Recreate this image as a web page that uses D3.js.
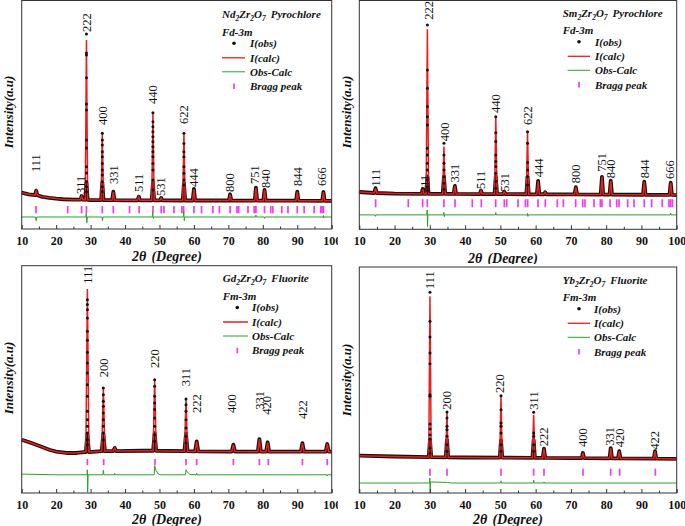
<!DOCTYPE html>
<html><head><meta charset="utf-8">
<script src="https://cdn.jsdelivr.net/npm/d3@7"></script>
<style>body{margin:0;background:#fff}svg{display:block}</style>
</head><body>
<svg id="chart" width="685" height="526"></svg>
<script>
// ---------------- DATA ----------------
const xTickValues = [10,20,30,40,50,60,70,80,90,100];
const xMinorValues = [15,25,35,45,55,65,75,85,95];
const legendLabels = ["I(obs)","I(calc)","Obs-Calc","Bragg peak"];

// Panel 1: Nd2Zr2O7 pyrochlore
const formula1 = ["Nd","2","Zr","2","O","7"];
const phase1 = "Pyrochlore", group1 = "Fd-3m";
const background1 = [[10,4.6],[12,3.6],[14,2.9],[16,2.0],[18,1.4],[20,0.9],[22,0.5],[25,0.2],[30,0],[40,-0.2],[60,-0.3],[80,-0.4],[100,-0.5]];
const peaks1 = [[14.2,5.8,3.0],[27.4,2.5,0.2],[28.8,100,0.1],[33.4,41.9,0],[36.6,5.2,-0.1],[44.0,2.1,-0.2],[48.1,54.6,-0.2],[50.5,1.3,-0.2],[57.1,41.7,-0.3],[60.0,6.9,-0.3],[70.5,3.6,-0.3],[78.0,7.7,-0.4],[80.5,6.3,-0.4],[90.0,5.2,-0.4],[97.6,5.0,-0.5]];
const obsCols1 = [[28.8,[103.8,91.9,90.6,76.4,60,56.3,37.5,32.5,20.8,16.9,11.4,8.3,5.2]],
  [33.4,[41.7,37.5,34.4,30.2,27.1,22.9,18.8,15.6,11.4,8.3,5.2]],
  [48.1,[54.6,48.9,45.8,42.7,39.6,36.5,33.3,30.2,27.1,22.9,18.8,12.5,6.3]],
  [57.1,[41.7,35.4,30.2,27.1,20.8,16.7,12.5,9.4]]];
const diff1 = [[10,-10.6],[14.0,-10.6],[14.2,-12.9],[14.4,-10.6],[28.6,-10.6],[28.75,-8.3],[28.9,-14.2],[29.05,-10.6],[33.3,-10.6],[33.45,-12.9],[33.6,-10.6],[47.9,-10.6],[48.05,-7.9],[48.2,-11.5],[48.35,-10.6],[56.9,-10.6],[57.05,-7.3],[57.2,-12.9],[57.35,-10.6],[77.9,-10.6],[78.0,-9.4],[78.1,-10.6],[80.4,-10.6],[80.5,-11.5],[80.6,-10.6],[97.5,-10.6],[97.6,-9.7],[97.7,-11.2],[97.8,-10.6],[100,-10.6]];
const bragg1 = [14.16,23.35,27.4,28.8,33.4,36.6,41.3,44.1,48.1,50.5,51.3,54.2,56.5,57.0,60.0,62.2,65.5,67.4,70.5,72.5,73.0,75.7,77.5,78.0,80.5,82.3,82.9,85.5,87.3,90.0,92.0,94.9,96.8,97.2,97.6];
const hkl1 = ["111","311","222","400","331","511","440","531","622","444","800","751","840","844","666"];
const hklPos1 = [14.15,27.2,28.87,33.4,36.6,44.0,47.9,50.4,57.1,60.0,70.5,77.7,80.7,90.0,97.2];
const hklAt1 = [17.5,3.8,105,46.9,10,5,60,2.5,47.5,8.1,5,10,7.5,8.8,8.8];

// Panel 2: Sm2Zr2O7 pyrochlore
const formula2 = ["Sm","2","Zr","2","O","7"];
const phase2 = "Pyrochlore", group2 = "Fd-3m";
const background2 = [[10,1.2],[15,0.6],[20,0.2],[30,0],[60,-0.3],[100,-0.7]];
const peaks2 = [[14.6,3.6,0.6],[28.0,3.1,0],[29.3,102.9,0],[34.0,29.6,0],[37.1,5.0,0],[44.5,2.1,-0.1],[48.7,48.3,-0.1],[51.1,1.4,-0.1],[57.7,38.9,-0.2],[60.7,8.1,-0.2],[62.7,1.0,-0.2],[71.4,4.2,-0.3],[78.8,10.8,-0.4],[81.3,8.3,-0.4],[90.8,7.7,-0.5],[98.3,7.1,-0.6]];
const obsCols2 = [[29.3,[105.6,77.5,66.0,54.6,48.3,43.1,28.6,24.4,19.2,15.0,8.8,4.6,2.1]],
  [34.0,[31.7,24.4,19.2,15,10.8,6.7,2.9]],
  [48.7,[48.3,38.3,32.7,24.4,20.2,17.1,12.9,7.7,3.6]],
  [57.7,[38.9,31.7,19.6,15,10.8,5.6]]];
const diff2 = [[10,-13.1],[14.5,-13.1],[14.6,-14.0],[14.7,-13.1],[29.15,-13.1],[29.25,-10.0],[29.35,-20.4],[29.45,-13.1],[33.9,-13.1],[34.0,-11.5],[34.1,-14.2],[34.2,-13.1],[48.6,-13.1],[48.7,-11.6],[48.8,-13.1],[57.6,-13.1],[57.7,-12.2],[57.8,-14.0],[57.9,-13.1],[98.2,-13.1],[98.3,-12.0],[98.4,-13.1],[100,-13.1]];
const bragg2 = [14.63,23.9,27.96,29.29,34.0,37.13,42.05,44.6,48.67,51.12,51.8,55.0,57.1,57.74,60.67,62.75,66.15,67.86,71.35,73.34,74.0,76.55,78.35,78.82,81.1,82.98,83.64,86.1,87.9,90.8,92.9,95.9,97.8,98.3,98.8];
const hkl2 = ["111","311","222","400","331","511","440","531","622","444","800","751","840","844","666"];
const hklPos2 = [14.65,28.6,29.6,34.1,37.1,44.5,48.7,51.1,57.8,60.8,71.2,78.8,81.3,90.8,98.1];
const hklAt2 = [4.6,0.6,108.8,33,7.1,3.1,50.6,1.4,43.1,10.4,6.7,13.9,9.8,9.8,9.4];

// Panel 3: Gd2Zr2O7 fluorite
const formula3 = ["Gd","2","Zr","2","O","7"];
const phase3 = "Fluorite", group3 = "Fm-3m";
const background3 = [[10,7.7],[12,6.3],[15,3.9],[18,1.4],[20,0.2],[23,-0.6],[26,-0.6],[28,0],[35,0.6],[45,0.8],[60,0.4],[80,0.2],[100,0.2]];
const peaks3 = [[29.07,101.9,0],[33.7,40,0.5],[37.0,2.5,0.6],[48.6,45.2,0.8],[57.7,33.1,0.5],[60.8,6.7,0.4],[71.45,4.6,0.3],[79.0,8.1,0.2],[81.4,6.1,0.2],[91.5,5.6,0.2],[98.7,5.0,0.2]];
const obsCols3 = [[29.07,[95.2,92.1,88.9,83.8,75.4,69.8,62.3,55.6,49.4,42.1,34.8,25.4,20.2,16.1,11.9,7.7,4.6]],
  [33.7,[40,35.8,31.7,28.6,24.4,20.2,16.1,11.9,7.7]],
  [48.6,[45.2,41.1,34.8,30.6,26.5,21.3,16.1,10.8,6.7]],
  [57.7,[33.1,29.6,25.4,20.2,15,9.8,5.6]]];
const diff3 = [[10,-13.8],[20,-14.2],[29.0,-14.2],[29.05,-11.1],[29.15,-25.2],[29.3,-14.2],[33.6,-14.2],[33.7,-11.4],[33.85,-14.2],[36.9,-14.2],[37.0,-13.3],[37.1,-14.2],[48.5,-14.2],[48.6,-8.6],[49.0,-11.5],[49.6,-13.6],[50.2,-14.2],[57.6,-14.2],[57.7,-11.1],[58.1,-12.5],[58.8,-14.0],[60.7,-14.2],[60.8,-13.3],[60.9,-14.2],[98.6,-14.2],[98.7,-15.0],[98.8,-14.2],[100,-14.2]];
const bragg3 = [29.07,33.8,48.7,57.7,60.8,71.45,79.0,81.6,91.5,98.7];
const hkl3 = ["111","200","220","311","222","400","331","420","422"];
const hklPos3 = [29.05,33.9,48.6,57.7,60.8,71.0,79.0,81.1,91.5];
const hklAt3 = [105.2,46.7,52.5,41.1,24.4,24.4,26.4,23.3,20.6];

// Panel 4: Yb2Zr2O7 fluorite
const formula4 = ["Yb","2","Zr","2","O","7"];
const phase4 = "Fluorite", group4 = "Fm-3m";
const background4 = [[10,0.8],[20,0.3],[40,-0.3],[70,-0.7],[100,-1.2]];
const peaks4 = [[30.04,100.4,-0.1],[34.86,28.1,-0.2],[50.18,38.3,-0.4],[59.44,26.4,-0.5],[62.37,5.2,-0.6],[73.4,2.5,-0.7],[81.3,5.6,-0.8],[83.7,3.6,-0.9],[93.85,3.6,-1.0]];
const obsCols4 = [[30.04,[102.9,84.8,75,65,58.3,38.9,37.9,20.6,17.5,13.9,11.3,5.6,2.5]],
  [34.86,[28.1,24.4,19.2,17.1,12.9,7.7,3.6]],
  [50.18,[38.3,29.6,21.3,19.2,15,7.7,3.6]],
  [59.44,[27.9,15,12.9,7.7,3.6]]];
const diff4 = [[10,-16.25],[29.9,-16.25],[30.0,-13.1],[30.1,-22.5],[30.2,-15.6],[35,-15.9],[36,-16.25],[50.1,-16.25],[50.2,-14.9],[50.3,-16.25],[59.35,-16.25],[59.45,-14.4],[59.55,-16.25],[62.3,-16.25],[62.4,-15.6],[62.5,-16.25],[100,-16.25]];
const bragg4 = [30.04,34.86,50.18,59.44,62.37,73.43,81.28,83.83,93.95];
const hkl4 = ["111","200","220","311","222","400","331","420","422"];
const hklPos4 = [29.85,34.8,49.9,59.35,62.4,73.4,81.1,83.7,93.8];
const hklAt4 = [105,29.6,40,29.6,6.7,6.3,7.1,6.1,4.6];

// ---------------- LAYOUT ----------------
const FONT = "'Liberation Serif','Times New Roman',serif";
const RED = "#ee1c1c", GREEN = "#2ca02c", MAGENTA = "#f03cf0", FRAME = "#333";

const panels = [
  {cell:[0,0,338,263.5], xr:[21.7,331.7], yr:[229,0.5], yDom:[-18.1,124.7], w:0.35,
   bg:background1, peaks:peaks1, obs:obsCols1, diff:diff1, bragg:bragg1, braggR:[-3.75,-8.3],
   hkl:hkl1, hklPos:hklPos1, hklAt:hklAt1, formula:formula1, phase:phase1, group:group1,
   leg:{lx:222, y0:0.5, l1:222, l2:245, dot:234, tx:250}, yt:[8,112], xt:[167,261]},
  {cell:[338,0,347,264], xr:[359.3,676.7], yr:[229.3,0.5], yDom:[-22.1,120.9], w:0.35,
   bg:background2, peaks:peaks2, obs:obsCols2, diff:diff2, bragg:bragg2, braggR:[-3.3,-8.3],
   hkl:hkl2, hklPos:hklPos2, hklAt:hklAt2, formula:formula2, phase:phase2, group:group2,
   leg:{lx:562.7, y0:-1, l1:567.7, l2:590, dot:579, tx:595}, yt:[346,112], xt:[503,263]},
  {cell:[0,263.5,338,262.5], xr:[21.7,331.7], yr:[493,265.7], yDom:[-25.6,116.4], w:0.45,
   bg:background3, peaks:peaks3, obs:obsCols3, diff:diff3, bragg:bragg3, braggR:[-4.4,-8.3],
   hkl:hkl3, hklPos:hklPos3, hklAt:hklAt3, formula:formula3, phase:phase3, group:group3,
   leg:{lx:222.7, y0:264.7, l1:223, l2:248, dot:237.3, tx:252}, yt:[8,378], xt:[167,524]},
  {cell:[338,264,347,262], xr:[359.3,676.7], yr:[493,267], yDom:[-22.5,118.75], w:0.35,
   bg:background4, peaks:peaks4, obs:obsCols4, diff:diff4, bragg:bragg4, braggR:[-7.3,-11.7],
   hkl:hkl4, hklPos:hklPos4, hklAt:hklAt4, formula:formula4, phase:phase4, group:group4,
   leg:{lx:562.7, y0:266, l1:567.7, l2:590, dot:579, tx:594}, yt:[346,380], xt:[508,524]}
];

const svg = d3.select("#chart");
const defs = svg.append("defs");

function buildProfile(bg, peaks, w, cap){
  const pts = bg.filter(([x]) => !peaks.some(p => Math.abs(x - p[0]) <= w + 0.05)).map(d => [d[0], d[1]]);
  peaks.forEach(([c, top, base]) => {
    const t = cap == null ? top : Math.min(top, base + cap);
    pts.push([c - w, base], [c, t], [c + w, base]);
  });
  return pts.sort((a, b) => a[0] - b[0]);
}

panels.forEach((p, i) => {
  defs.append("clipPath").attr("id", "clip" + i).append("rect")
    .attr("x", p.cell[0]).attr("y", p.cell[1]).attr("width", p.cell[2]).attr("height", p.cell[3]);
  const g = svg.append("g").attr("clip-path", `url(#clip${i})`);
  const x = d3.scaleLinear().domain([10, 100]).range(p.xr);
  const y = d3.scaleLinear().domain(p.yDom).range(p.yr);
  const line = d3.line().x(d => x(d[0])).y(d => y(d[1]));

  // Bragg ticks
  g.append("g").selectAll("line").data(p.bragg).join("line")
    .attr("x1", d => x(d)).attr("x2", d => x(d))
    .attr("y1", y(p.braggR[0])).attr("y2", y(p.braggR[1]))
    .attr("stroke", MAGENTA).attr("stroke-width", 1.7);

  // Difference curve
  g.append("path").datum(p.diff).attr("d", line)
    .attr("fill", "none").attr("stroke", GREEN).attr("stroke-width", 1);

  // Observed (dense points rendered as thick black band)
  g.append("path").datum(buildProfile(p.bg, p.peaks, p.w, 11)).attr("d", line)
    .attr("fill", "none").attr("stroke", "#111").attr("stroke-width", 3.8)
    .attr("stroke-linejoin", "round");
  // Calculated
  g.append("path").datum(buildProfile(p.bg, p.peaks, p.w, null)).attr("d", line)
    .attr("fill", "none").attr("stroke", RED).attr("stroke-width", 1.5)
    .attr("stroke-linejoin", "miter");
  // Observed dots on peaks
  const dots = [];
  p.obs.forEach(([pos, vals]) => vals.forEach(v => dots.push([pos, v])));
  g.append("g").selectAll("circle").data(dots).join("circle")
    .attr("cx", d => x(d[0])).attr("cy", d => y(d[1])).attr("r", 1.5).attr("fill", "#111");

  // hkl labels
  g.append("g").selectAll("text").data(p.hkl).join("text")
    .attr("transform", (d, k) => `translate(${x(p.hklPos[k])},${y(p.hklAt[k])}) rotate(-90)`)
    .attr("dy", "0.35em").attr("text-anchor", "start")
    .attr("font-family", FONT).attr("font-size", 12.5).attr("fill", "#111")
    .text(d => d);

  // Frame
  g.append("rect").attr("x", p.xr[0]).attr("y", p.yr[1])
    .attr("width", p.xr[1] - p.xr[0]).attr("height", p.yr[0] - p.yr[1])
    .attr("fill", "none").attr("stroke", FRAME).attr("stroke-width", 1);

  // X axis
  const ax = g.append("g").attr("transform", `translate(0,${p.yr[0]})`)
    .call(d3.axisBottom(x).tickValues(xTickValues).tickFormat(d3.format("d"))
      .tickSizeInner(-4).tickSizeOuter(0).tickPadding(7));
  ax.select(".domain").remove();
  ax.selectAll("line").attr("stroke", FRAME);
  ax.selectAll("text").attr("font-family", FONT).attr("font-size", 12)
    .attr("font-weight", "bold").attr("fill", "#111");
  const axm = g.append("g").attr("transform", `translate(0,${p.yr[0]})`)
    .call(d3.axisBottom(x).tickValues(xMinorValues).tickFormat("").tickSizeInner(-2.5).tickSizeOuter(0));
  axm.select(".domain").remove();
  axm.selectAll("line").attr("stroke", FRAME);

  // Axis titles
  const xt = g.append("text").attr("x", p.xt[0]).attr("y", p.xt[1]).attr("text-anchor", "middle")
    .attr("font-family", FONT).attr("font-size", 14).attr("font-weight", "bold")
    .attr("font-style", "italic").attr("fill", "#111");
  xt.append("tspan").text("2θ");
  xt.append("tspan").attr("dx", 5).text("(Degree)");
  g.append("text").attr("transform", `translate(${p.yt[0]},${p.yt[1]}) rotate(-90)`)
    .attr("text-anchor", "middle").attr("dy", "0.35em")
    .attr("font-family", FONT).attr("font-size", 13).attr("font-weight", "bold")
    .attr("font-style", "italic").attr("fill", "#111").text("Intensity(a.u)");

  // Legend
  const L = p.leg, y0 = L.y0;
  const lg = g.append("g").attr("font-family", FONT).attr("font-size", 11)
    .attr("font-weight", "bold").attr("font-style", "italic").attr("fill", "#111");
  const t1 = lg.append("text").attr("x", L.lx).attr("y", y0 + 17.5);
  p.formula.forEach((s, k) => {
    const sp = t1.append("tspan").text(s);
    if (k % 2 === 1) sp.attr("font-size", 7.5).attr("dy", 3);
    else if (k > 0) sp.attr("dy", -3);
  });
  t1.append("tspan").attr("dy", -3).attr("dx", 5).text(p.phase);
  lg.append("text").attr("x", L.lx).attr("y", y0 + 35).text(p.group);
  const rows = [46.5, 61, 75, 89.5];
  lg.append("circle").attr("cx", L.dot).attr("cy", y0 + rows[0] - 3.7).attr("r", 1.8).attr("fill", "#111");
  lg.append("line").attr("x1", L.l1).attr("x2", L.l2).attr("y1", y0 + rows[1] - 3.7).attr("y2", y0 + rows[1] - 3.7)
    .attr("stroke", RED).attr("stroke-width", 1.3);
  lg.append("line").attr("x1", L.l1).attr("x2", L.l2).attr("y1", y0 + rows[2] - 3.7).attr("y2", y0 + rows[2] - 3.7)
    .attr("stroke", GREEN).attr("stroke-width", 1);
  lg.append("line").attr("x1", L.dot).attr("x2", L.dot).attr("y1", y0 + rows[3] - 6.5).attr("y2", y0 + rows[3] - 1)
    .attr("stroke", MAGENTA).attr("stroke-width", 1.7);
  legendLabels.forEach((s, k) => lg.append("text").attr("x", L.tx).attr("y", y0 + rows[k]).text(s));
});
</script>
</body></html>
